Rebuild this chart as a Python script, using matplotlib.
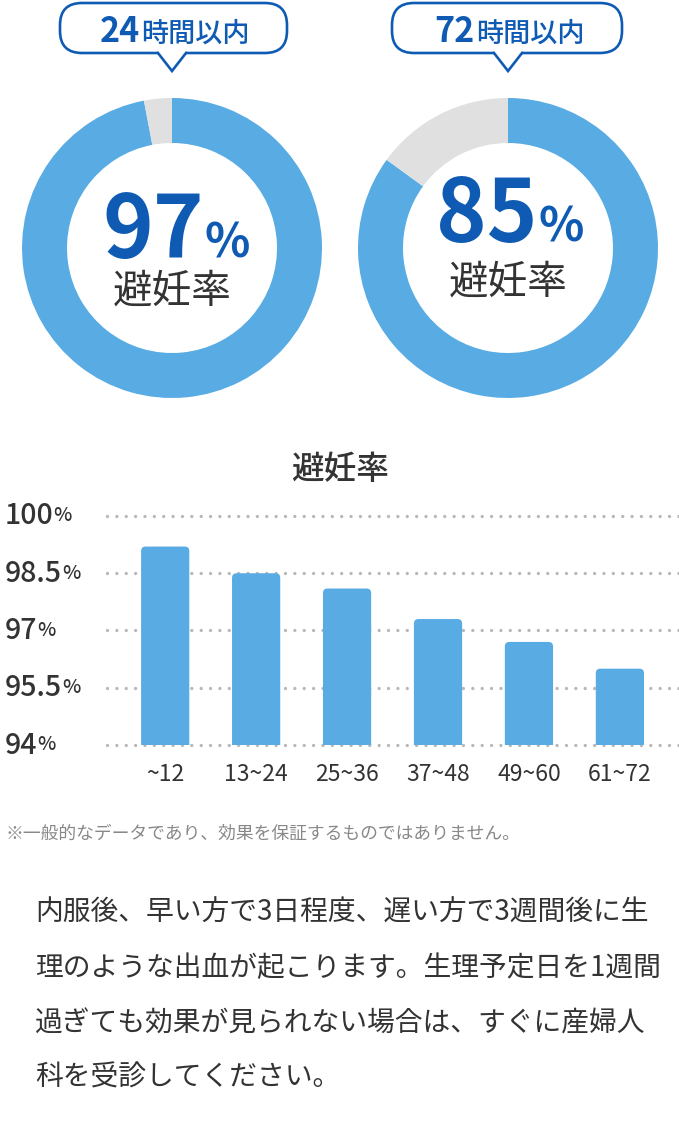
import numpy as np
import matplotlib
matplotlib.use("Agg")
import matplotlib.pyplot as plt
from matplotlib.patches import FancyBboxPatch, Polygon
from matplotlib.transforms import blended_transform_factory

plt.rcParams['font.family'] = ['Noto Sans CJK JP', 'DejaVu Sans']

# data
donut_titles = ['24時間以内', '72時間以内']
donut_rates = [97, 85]
bar_title = '避妊率'
bar_labels = ['~12', '13~24', '25~36', '37~48', '49~60', '61~72']
bar_values = [99.2, 98.5, 98.1, 97.3, 96.7, 96.0]
y_ticks = [94, 95.5, 97, 98.5, 100]
y_tick_labels = ['94', '95.5', '97', '98.5', '100']
note = '※一般的なデータであり、効果を保証するものではありません。'
body_lines = ['内服後、早い方で3日程度、遅い方で3週間後に生',
              '理のような出血が起こります。生理予定日を1週間',
              '過ぎても効果が見られない場合は、すぐに産婦人',
              '科を受診してください。']

BLUE = '#58abe3'
GRAY = '#e0e0e0'
DARK = '#0f5bb4'
TEXT = '#333333'
W, H = 679, 1126

fig = plt.figure(figsize=(W / 100, H / 100), dpi=100)
fig.patch.set_facecolor('white')

# donuts, each in its own square axes (pixel based rects)
centers = [(172, 248), (508, 248)]
R, PAD = 150, 160
for (cx, cy), rate in zip(centers, donut_rates):
    dax = fig.add_axes([(cx - PAD) / W, (H - cy - PAD) / H, 2 * PAD / W, 2 * PAD / H])
    dax.pie([rate, 100 - rate], colors=[BLUE, GRAY], startangle=90, counterclock=False,
            radius=1, wedgeprops=dict(width=0.30, linewidth=0))
    dax.set_xlim(-PAD / R, PAD / R)
    dax.set_ylim(-PAD / R, PAD / R)

# bar chart
bax = fig.add_axes([107 / W, (H - 745) / H, (W - 107) / W, 229 / H])
x = np.arange(len(bar_values))
bars = bax.bar(x, [v - 93.5 for v in bar_values], bottom=93.5, width=0.53, color=BLUE)
bax.set_xlim(-0.64, 5.65)
bax.set_ylim(94, 100)
# swap the plain rectangles for ones with slightly rounded tops
for b in bars:
    b.set_visible(False)
    rb = FancyBboxPatch((b.get_x(), b.get_y()), b.get_width(), b.get_height(),
                        boxstyle='round,pad=0,rounding_size=0.05', mutation_aspect=2.4,
                        facecolor=BLUE, edgecolor='none', zorder=2)
    bax.add_patch(rb)
for t in y_ticks:
    bax.axhline(t, color='#b8b8b8', lw=2.4, linestyle=(0, (0.01, 2.8)),
                dash_capstyle='round', clip_on=False, zorder=1)
bax.set_xticks(x)
bax.set_xticklabels(bar_labels, fontsize=16.5, color=TEXT)
bax.tick_params(axis='x', length=0, pad=13)
bax.set_yticks([])
for s in bax.spines.values():
    s.set_visible(False)

# overlay in pixel coordinates for texts and callouts
ax = fig.add_axes([0, 0, 1, 1])
ax.set_xlim(0, W)
ax.set_ylim(H, 0)
ax.axis('off')

# callout bubbles
bubbles = [(60, 287, 140), (392, 622, 475)]
for (x0, x1, split), (cx, cy), title in zip(bubbles, centers, donut_titles):
    box = FancyBboxPatch((x0, 3), x1 - x0, 50, boxstyle='round,pad=0,rounding_size=22',
                         facecolor='white', edgecolor=DARK, lw=1.9)
    ax.add_patch(box)
    ax.add_patch(Polygon([(cx - 14, 49), (cx + 14, 49), (cx + 14, 53), (cx, 72), (cx - 14, 53)],
                         closed=True, facecolor='white', edgecolor='none', zorder=3))
    ax.plot([cx - 14, cx, cx + 14], [53, 71, 53], color=DARK, lw=1.9, zorder=4,
            solid_joinstyle='miter')
    ax.text(split, 42, title[:2], ha='right', va='baseline', fontsize=24.5,
            fontweight='bold', color=DARK)
    ax.text(split + 1, 42, title[2:], ha='left', va='baseline', fontsize=19.5,
            fontweight='medium', color=DARK)

# centre of donuts (right one sits a little higher in the original)
splits = [204, 538]
baselines = [258, 242]
label_y = [292, 283]
for (cx, cy), rate, sx, by, ly in zip(centers, donut_rates, splits, baselines, label_y):
    ax.text(sx, by, str(rate), ha='right', va='baseline', fontsize=62,
            fontweight='bold', color=DARK)
    ax.text(sx + 1, by, '%', ha='left', va='baseline', fontsize=34,
            fontweight='bold', color=DARK)
    ax.text(cx, ly, '避妊率', ha='center', va='center', fontsize=28.5, color=TEXT)

# bar chart title and y tick labels
ax.text(340, 470, bar_title, ha='center', va='center', fontsize=23.5,
        fontweight='medium', color=TEXT)
tr = blended_transform_factory(ax.transData, bax.transData)
for t, lab in zip(y_ticks, y_tick_labels):
    num = ax.text(5, t, lab, transform=tr, ha='left', va='center', fontsize=20.5,
                  fontweight='medium', color=TEXT)
    ax.annotate('%', xy=(1, 0.18), xycoords=num, ha='left', va='bottom',
                fontsize=14, fontweight='medium', color=TEXT)

# footnote and body text
ax.text(5, 834, note, ha='left', va='center', fontsize=12.8, color='#888888')
for i, line in enumerate(body_lines):
    ax.text(35, 913 + 55 * i, line, ha='left', va='center', fontsize=20, color=TEXT)

fig.savefig('out.png', dpi=100, facecolor='white')
